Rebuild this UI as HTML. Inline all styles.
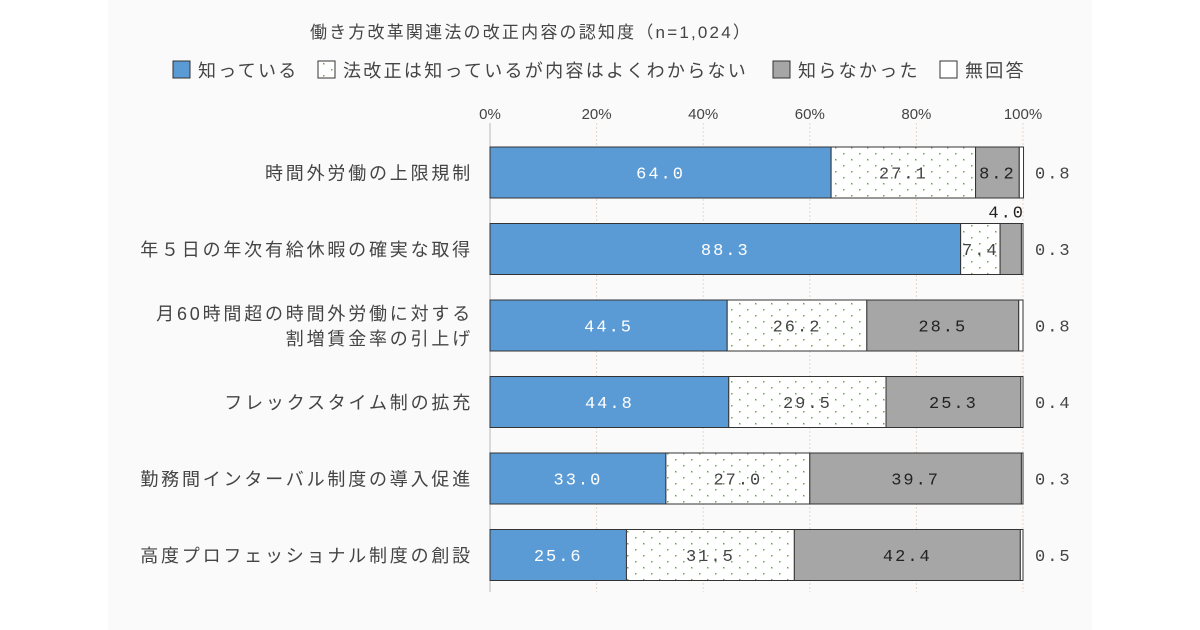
<!DOCTYPE html>
<html><head><meta charset="utf-8">
<style>
body{margin:0;background:#fff;width:1200px;height:630px;overflow:hidden;font-family:"Liberation Sans","Noto Sans CJK JP",sans-serif;}
#panel{position:absolute;left:108px;top:0;width:984px;height:630px;background:#fafafa;}
</style></head>
<body>
<div id="panel"></div>
<svg id="chart" width="1200" height="630" style="position:absolute;left:0;top:0">
<defs>
<pattern id="dots" width="16" height="12" patternUnits="userSpaceOnUse">
<rect width="16" height="12" fill="#fff"/>
<rect x="3" y="3" width="1.5" height="1.5" fill="#6aa84f"/>
<rect x="11" y="9" width="1.5" height="1.5" fill="#6aa84f"/>
</pattern>
</defs>
<text x="531" y="38" font-size="17" letter-spacing="2.2" fill="#444" text-anchor="middle">働き方改革関連法の改正内容の認知度（n=1,024）</text>
</svg>
<script>
const categories=[["時間外労働の上限規制"],["年５日の年次有給休暇の確実な取得"],["月60時間超の時間外労働に対する","割増賃金率の引上げ"],["フレックスタイム制の拡充"],["勤務間インターバル制度の導入促進"],["高度プロフェッショナル制度の創設"]];
const knowVals=[64.0,88.3,44.5,44.8,33.0,25.6];
const partialVals=[27.1,7.4,26.2,29.5,27.0,31.5];
const unknownVals=[8.2,4.0,28.5,25.3,39.7,42.4];
const noAnswerVals=[0.8,0.3,0.8,0.4,0.3,0.5];
const seriesNames=["知っている","法改正は知っているが内容はよくわからない","知らなかった","無回答"];
const tickLabels=["0%","20%","40%","60%","80%","100%"];
const tickVals=[0,20,40,60,80,100];

const svg=document.getElementById('chart');
const NS='http://www.w3.org/2000/svg';
const X0=490,X1=1023,rowTop=147,pitch=76.5,barH=51;
const x=v=>X0+(X1-X0)*v/100;
const rowY=i=>rowTop+i*pitch;
function mk(tag,attrs,txt){const e=document.createElementNS(NS,tag);for(const k in attrs)e.setAttribute(k,attrs[k]);if(txt!==undefined)e.textContent=txt;svg.appendChild(e);return e;}

// legend
const legX=[173,318,773,940];
const fills=["#5b9bd5","url(#dots)","#a6a6a6","#fff"];
seriesNames.forEach((n,i)=>{
 const r=mk('rect',{x:legX[i],y:61,width:17,height:17,fill:fills[i],stroke:'#333','stroke-width':1});
 
 
 const t=mk('text',{x:legX[i]+25,y:77,'font-size':18,'letter-spacing':2.3,fill:'#444'},n);
 
 
});

// grid + ticks
tickVals.forEach((v,i)=>{
 const g=mk('line',{x1:x(v),x2:x(v),y1:123,y2:592,stroke:'#e6d6c8','stroke-width':1,'stroke-dasharray':'2,2'});
 
 
 const t=mk('text',{x:x(v),y:119,'font-size':15,fill:'#444','text-anchor':'middle'},tickLabels[i]);
 
 
});
const ax=mk('line',{x1:X0,x2:X0,y1:123,y2:592,stroke:'#bbb','stroke-width':1});



const series=[knowVals,partialVals,unknownVals,noAnswerVals];
const txtCol=["#fff","#444","#222","#444"];
categories.forEach((lines,i)=>{
 const y=rowY(i);
 let acc=0;
 series.forEach((arr,s)=>{
  const v=arr[i];
  const r=mk('rect',{x:x(acc),y:y,width:x(acc+v)-x(acc),height:barH,fill:fills[s],stroke:'#333','stroke-width':1});
  
  
  let lx=(x(acc)+x(acc+v))/2,ly=y+barH/2+6;
  let anchor='middle';
  if(s===3){lx=1035;anchor='start';}
  else if(s===2&&v<5){lx=x(100)+2;ly=y-6;anchor='end';}
  const t=mk('text',{x:lx,y:ly,'font-size':17,'letter-spacing':2,fill:txtCol[s],'text-anchor':anchor,'font-family':'"Liberation Mono",monospace'},v.toFixed(1));
  
  
  acc+=v;
 });
 const n=lines.length;
 lines.forEach((ln,k)=>{
  const t=mk('text',{x:473,y:y+barH/2+7+(k-(n-1)/2)*25,'font-size':18,'letter-spacing':2.8,fill:'#444','text-anchor':'end'},ln);
  
  
 });
});
</script>
</body></html>
